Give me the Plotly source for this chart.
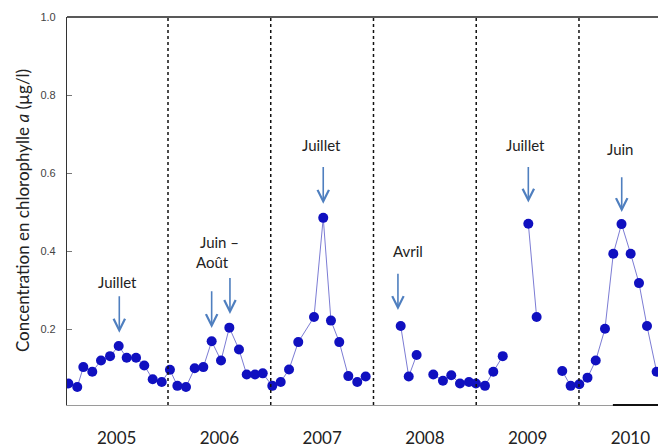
import plotly.graph_objects as go

# ---- data (decimal year, chlorophyll a in µg/l; None = gap in series) ----
t = [2005.030, 2005.117, 2005.176, 2005.263, 2005.348, 2005.436, 2005.520, 2005.598, 2005.689, 2005.769, 2005.851, 2005.939,
     2006.019, 2006.091, 2006.175, 2006.260, 2006.344, 2006.425, 2006.516, 2006.597, 2006.691, 2006.766, 2006.847, 2006.922,
     2007.015, 2007.097, 2007.178, 2007.268, 2007.421, 2007.511, 2007.586, 2007.667, 2007.755, 2007.842, 2007.924,
     2008.100,
     2008.265, 2008.343, 2008.420,
     2008.500,
     2008.582, 2008.676, 2008.757, 2008.842, 2008.929, 2008.997,
     2009.085, 2009.166, 2009.258,
     2009.400,
     2009.507, 2009.588,
     2009.700,
     2009.837, 2009.919,
     2010.003, 2010.083, 2010.163, 2010.253, 2010.334, 2010.414, 2010.503, 2010.584, 2010.662, 2010.756, 2010.827]
chl = [0.062, 0.053, 0.104, 0.092, 0.121, 0.132, 0.158, 0.128, 0.128, 0.108, 0.073, 0.066,
       0.097, 0.056, 0.053, 0.101, 0.104, 0.170, 0.121, 0.205, 0.149, 0.085, 0.085, 0.088,
       0.056, 0.066, 0.098, 0.168, 0.232, 0.486, 0.223, 0.168, 0.081, 0.066, 0.080,
       None,
       0.209, 0.080, 0.135,
       None,
       0.085, 0.069, 0.083, 0.062, 0.066, 0.062,
       0.056, 0.092, 0.132,
       None,
       0.471, 0.232,
       None,
       0.094, 0.056,
       0.060, 0.077, 0.121, 0.202, 0.394, 0.470, 0.394, 0.319, 0.209, 0.092, 0.073]

years = [2005, 2006, 2007, 2008, 2009, 2010]
year_labels = ["2005", "2006", "2007", "2008", "2009", "2010"]
y_ticks = [0.2, 0.4, 0.6, 0.8, 1.0]
y_ticktext = ["0.2", "0.4", "0.6", "0.8", "1.0"]

# month labels: (text, x, y)
labels = [("Juillet", 2005.510, 0.323), ("Juin –", 2006.506, 0.425), ("Août", 2006.435, 0.374),
          ("Juillet", 2007.496, 0.673), ("Avril", 2008.339, 0.400), ("Juillet", 2009.484, 0.673),
          ("Juin", 2010.399, 0.662)]
# arrows: (x, tip y, tail y)
arrows = [(2005.526, 0.192, 0.289), (2006.425, 0.204, 0.302), (2006.603, 0.240, 0.336),
          (2007.511, 0.522, 0.620), (2008.238, 0.250, 0.347), (2009.507, 0.525, 0.620),
          (2010.416, 0.501, 0.594)]

XMIN, XMAX = 2005.017, 2010.847
FONT = "Lato"
ARROW_C = "#4f7fbf"

fig = go.Figure()
fig.add_trace(go.Scatter(
    x=t, y=chl, mode="lines+markers", connectgaps=False,
    line=dict(color="#7c7cd4", width=1),
    marker=dict(color="#1010c0", size=10, line=dict(width=0)),
    hoverinfo="skip", showlegend=False))

shapes = []
for yr in years[1:]:
    shapes.append(dict(type="line", xref="x", yref="paper", x0=yr, x1=yr, y0=0, y1=1,
                       line=dict(color="#111111", width=1.5, dash="dot")))
# top frame line
shapes.append(dict(type="line", xref="paper", yref="paper", x0=0, x1=1, y0=1, y1=1,
                   line=dict(color="#222222", width=1.5)))
# dark segment at bottom right
shapes.append(dict(type="line", xref="x", yref="paper", x0=2010.33, x1=XMAX, y0=0, y1=0,
                   line=dict(color="#111111", width=2)))

annotations = []
for txt, x, y in labels:
    annotations.append(dict(x=x, y=y, xref="x", yref="y", text=txt, showarrow=False,
                            font=dict(family=FONT, size=15, color="#222222"),
                            xanchor="center", yanchor="middle"))
for x, tip, tail in arrows:
    annotations.append(dict(x=x, y=tip, ax=x, ay=tail, xref="x", yref="y", axref="x", ayref="y",
                            text="", showarrow=True, arrowhead=5, arrowsize=1.4, arrowwidth=1.6,
                            arrowcolor=ARROW_C, standoff=0, startstandoff=0))
annotations.append(dict(xref="paper", yref="paper", x=-0.075, y=0.5, textangle=-90,
                        text="Concentration en chlorophylle <i>a</i> (µg/l)", showarrow=False,
                        xanchor="center", yanchor="middle",
                        font=dict(family=FONT, size=17, color="#222222")))

# page body adds an 8px offset, so the figure is sized to the visible area
fig.update_layout(
    width=658, height=440,
    margin=dict(l=59, r=0, t=9, b=40),
    paper_bgcolor="white", plot_bgcolor="white",
    shapes=shapes, annotations=annotations,
    xaxis=dict(range=[XMIN, XMAX], showgrid=False, zeroline=False,
               showline=True, linecolor="#9a9a9a", linewidth=1,
               tickvals=[y + 0.5 for y in years], ticktext=year_labels,
               ticks="", ticklabelstandoff=18,
               tickfont=dict(family=FONT, size=17, color="#222222")),
    yaxis=dict(range=[0.007, 1.0], showgrid=False, zeroline=False,
               showline=True, linecolor="#333333", linewidth=1.2,
               tickvals=y_ticks, ticktext=y_ticktext,
               ticks="inside", ticklen=5, tickcolor="#777777", tickwidth=1,
               ticklabelstandoff=8,
               tickfont=dict(family="Liberation Sans", size=11, color="#444444")),
)

fig.write_html("out.html")
